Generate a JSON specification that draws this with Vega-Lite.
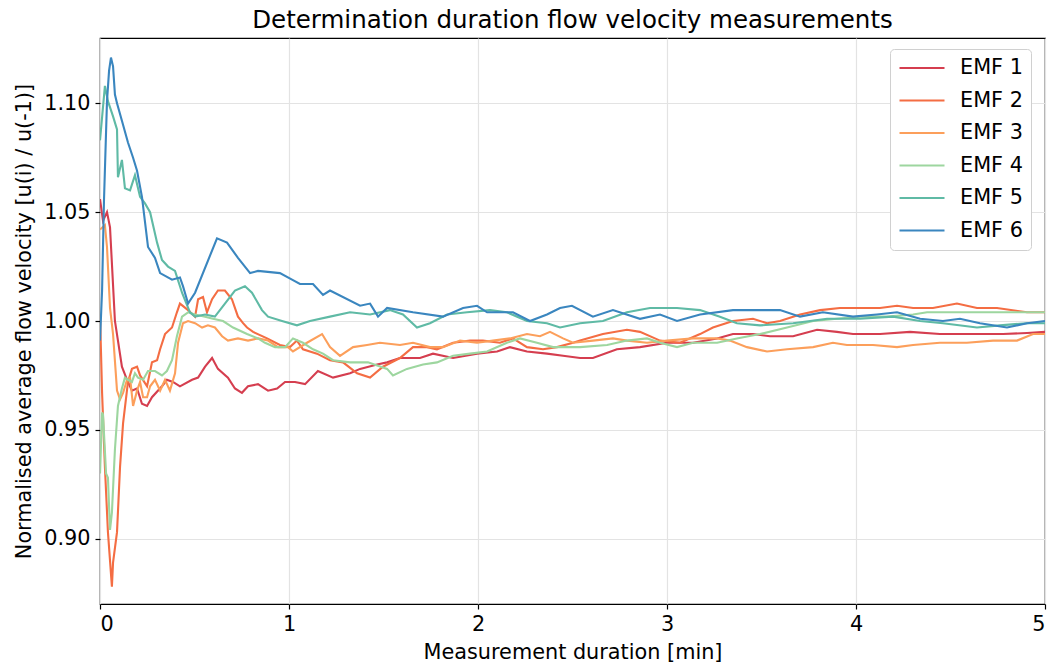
{
  "$schema": "https://vega.github.io/schema/vega-lite/v6.json",
  "width": 945,
  "height": 566,
  "autosize": {"type": "none"},
  "padding": {"left": 100, "top": 38, "right": 10, "bottom": 62},
  "background": "white",
  "title": {"text": "Determination duration flow velocity measurements", "fontSize": 24.5, "font": "DejaVu Sans", "fontWeight": "normal", "color": "black", "offset": 5, "anchor": "middle"},
  "config": {
    "font": "DejaVu Sans",
    "view": {"stroke": "black", "strokeWidth": 1.2},
    "axis": {
      "domain": false,
      "tickColor": "black", "tickSize": 5, "tickWidth": 1.2,
      "labelFont": "DejaVu Sans", "labelFontSize": 20.8, "labelColor": "black", "labelPadding": 5,
      "titleFont": "DejaVu Sans", "titleFontSize": 20.8, "titleFontWeight": "normal", "titleColor": "black",
      "gridColor": "#e3e3e3", "gridWidth": 1.2
    },
    "legend": {
      "orient": "none", "legendX": 790, "legendY": 11,
      "strokeColor": "#d0d0d0", "fillColor": "white", "cornerRadius": 4, "padding": 8,
      "symbolType": "stroke", "symbolSize": 2025, "symbolStrokeWidth": 2.2,
      "labelFont": "DejaVu Sans", "labelFontSize": 20.8, "labelColor": "black", "labelOffset": 14,
      "clipHeight": 22, "rowPadding": 10.5
    }
  },
  "layer": [
    {
      "data": {"values": [
        {"s":"EMF 1","t":0.000,"v":1.056},{"s":"EMF 1","t":0.016,"v":1.046},{"s":"EMF 1","t":0.037,"v":1.050},{"s":"EMF 1","t":0.053,"v":1.043},{"s":"EMF 1","t":0.079,"v":1.000},{"s":"EMF 1","t":0.095,"v":0.991},{"s":"EMF 1","t":0.116,"v":0.979},{"s":"EMF 1","t":0.143,"v":0.973},{"s":"EMF 1","t":0.169,"v":0.968},{"s":"EMF 1","t":0.196,"v":0.969},{"s":"EMF 1","t":0.222,"v":0.962},{"s":"EMF 1","t":0.249,"v":0.961},{"s":"EMF 1","t":0.275,"v":0.965},{"s":"EMF 1","t":0.328,"v":0.970},{"s":"EMF 1","t":0.354,"v":0.973},{"s":"EMF 1","t":0.386,"v":0.972},{"s":"EMF 1","t":0.423,"v":0.970},{"s":"EMF 1","t":0.487,"v":0.973},{"s":"EMF 1","t":0.519,"v":0.974},{"s":"EMF 1","t":0.556,"v":0.979},{"s":"EMF 1","t":0.593,"v":0.983},{"s":"EMF 1","t":0.624,"v":0.978},{"s":"EMF 1","t":0.677,"v":0.974},{"s":"EMF 1","t":0.714,"v":0.969},{"s":"EMF 1","t":0.751,"v":0.967},{"s":"EMF 1","t":0.783,"v":0.970},{"s":"EMF 1","t":0.836,"v":0.971},{"s":"EMF 1","t":0.889,"v":0.968},{"s":"EMF 1","t":0.937,"v":0.969},{"s":"EMF 1","t":0.979,"v":0.972},{"s":"EMF 1","t":1.032,"v":0.972},{"s":"EMF 1","t":1.085,"v":0.971},{"s":"EMF 1","t":1.153,"v":0.977},{"s":"EMF 1","t":1.233,"v":0.974},{"s":"EMF 1","t":1.323,"v":0.976},{"s":"EMF 1","t":1.376,"v":0.978},{"s":"EMF 1","t":1.466,"v":0.980},{"s":"EMF 1","t":1.519,"v":0.981},{"s":"EMF 1","t":1.587,"v":0.983},{"s":"EMF 1","t":1.693,"v":0.983},{"s":"EMF 1","t":1.762,"v":0.985},{"s":"EMF 1","t":1.868,"v":0.983},{"s":"EMF 1","t":1.995,"v":0.985},{"s":"EMF 1","t":2.101,"v":0.986},{"s":"EMF 1","t":2.169,"v":0.988},{"s":"EMF 1","t":2.259,"v":0.986},{"s":"EMF 1","t":2.365,"v":0.985},{"s":"EMF 1","t":2.450,"v":0.984},{"s":"EMF 1","t":2.540,"v":0.983},{"s":"EMF 1","t":2.608,"v":0.983},{"s":"EMF 1","t":2.735,"v":0.987},{"s":"EMF 1","t":2.857,"v":0.988},{"s":"EMF 1","t":3.000,"v":0.990},{"s":"EMF 1","t":3.138,"v":0.990},{"s":"EMF 1","t":3.265,"v":0.992},{"s":"EMF 1","t":3.349,"v":0.994},{"s":"EMF 1","t":3.455,"v":0.994},{"s":"EMF 1","t":3.545,"v":0.993},{"s":"EMF 1","t":3.667,"v":0.993},{"s":"EMF 1","t":3.794,"v":0.996},{"s":"EMF 1","t":3.899,"v":0.995},{"s":"EMF 1","t":3.984,"v":0.994},{"s":"EMF 1","t":4.127,"v":0.994},{"s":"EMF 1","t":4.286,"v":0.995},{"s":"EMF 1","t":4.444,"v":0.994},{"s":"EMF 1","t":4.640,"v":0.994},{"s":"EMF 1","t":4.778,"v":0.994},{"s":"EMF 1","t":4.905,"v":0.9945},{"s":"EMF 1","t":5.000,"v":0.995},

        {"s":"EMF 2","t":0.000,"v":1.003},{"s":"EMF 2","t":0.011,"v":0.967},{"s":"EMF 2","t":0.026,"v":0.933},{"s":"EMF 2","t":0.042,"v":0.903},{"s":"EMF 2","t":0.063,"v":0.878},{"s":"EMF 2","t":0.069,"v":0.889},{"s":"EMF 2","t":0.090,"v":0.903},{"s":"EMF 2","t":0.106,"v":0.933},{"s":"EMF 2","t":0.122,"v":0.953},{"s":"EMF 2","t":0.148,"v":0.972},{"s":"EMF 2","t":0.169,"v":0.978},{"s":"EMF 2","t":0.196,"v":0.979},{"s":"EMF 2","t":0.212,"v":0.975},{"s":"EMF 2","t":0.249,"v":0.970},{"s":"EMF 2","t":0.275,"v":0.981},{"s":"EMF 2","t":0.302,"v":0.982},{"s":"EMF 2","t":0.318,"v":0.987},{"s":"EMF 2","t":0.344,"v":0.994},{"s":"EMF 2","t":0.381,"v":0.997},{"s":"EMF 2","t":0.407,"v":1.004},{"s":"EMF 2","t":0.423,"v":1.008},{"s":"EMF 2","t":0.466,"v":1.005},{"s":"EMF 2","t":0.503,"v":1.002},{"s":"EMF 2","t":0.519,"v":1.010},{"s":"EMF 2","t":0.545,"v":1.011},{"s":"EMF 2","t":0.566,"v":1.004},{"s":"EMF 2","t":0.593,"v":1.010},{"s":"EMF 2","t":0.624,"v":1.014},{"s":"EMF 2","t":0.661,"v":1.014},{"s":"EMF 2","t":0.698,"v":1.010},{"s":"EMF 2","t":0.730,"v":1.002},{"s":"EMF 2","t":0.757,"v":0.999},{"s":"EMF 2","t":0.778,"v":0.997},{"s":"EMF 2","t":0.810,"v":0.995},{"s":"EMF 2","t":0.884,"v":0.992},{"s":"EMF 2","t":0.952,"v":0.989},{"s":"EMF 2","t":1.005,"v":0.988},{"s":"EMF 2","t":1.042,"v":0.991},{"s":"EMF 2","t":1.074,"v":0.987},{"s":"EMF 2","t":1.148,"v":0.985},{"s":"EMF 2","t":1.217,"v":0.982},{"s":"EMF 2","t":1.286,"v":0.981},{"s":"EMF 2","t":1.360,"v":0.976},{"s":"EMF 2","t":1.429,"v":0.974},{"s":"EMF 2","t":1.497,"v":0.979},{"s":"EMF 2","t":1.587,"v":0.983},{"s":"EMF 2","t":1.656,"v":0.988},{"s":"EMF 2","t":1.730,"v":0.988},{"s":"EMF 2","t":1.783,"v":0.987},{"s":"EMF 2","t":1.868,"v":0.990},{"s":"EMF 2","t":1.958,"v":0.991},{"s":"EMF 2","t":2.026,"v":0.991},{"s":"EMF 2","t":2.116,"v":0.990},{"s":"EMF 2","t":2.185,"v":0.992},{"s":"EMF 2","t":2.259,"v":0.988},{"s":"EMF 2","t":2.344,"v":0.987},{"s":"EMF 2","t":2.418,"v":0.988},{"s":"EMF 2","t":2.503,"v":0.990},{"s":"EMF 2","t":2.540,"v":0.991},{"s":"EMF 2","t":2.661,"v":0.994},{"s":"EMF 2","t":2.788,"v":0.996},{"s":"EMF 2","t":2.857,"v":0.995},{"s":"EMF 2","t":2.963,"v":0.991},{"s":"EMF 2","t":3.069,"v":0.990},{"s":"EMF 2","t":3.175,"v":0.994},{"s":"EMF 2","t":3.243,"v":0.997},{"s":"EMF 2","t":3.349,"v":1.000},{"s":"EMF 2","t":3.455,"v":1.001},{"s":"EMF 2","t":3.529,"v":0.999},{"s":"EMF 2","t":3.598,"v":1.000},{"s":"EMF 2","t":3.704,"v":1.003},{"s":"EMF 2","t":3.810,"v":1.005},{"s":"EMF 2","t":3.915,"v":1.006},{"s":"EMF 2","t":4.021,"v":1.006},{"s":"EMF 2","t":4.127,"v":1.006},{"s":"EMF 2","t":4.217,"v":1.007},{"s":"EMF 2","t":4.302,"v":1.006},{"s":"EMF 2","t":4.407,"v":1.006},{"s":"EMF 2","t":4.534,"v":1.008},{"s":"EMF 2","t":4.640,"v":1.006},{"s":"EMF 2","t":4.746,"v":1.006},{"s":"EMF 2","t":4.905,"v":1.004},{"s":"EMF 2","t":5.000,"v":1.004},

        {"s":"EMF 3","t":0.000,"v":1.042},{"s":"EMF 3","t":0.026,"v":1.044},{"s":"EMF 3","t":0.037,"v":1.034},{"s":"EMF 3","t":0.053,"v":1.006},{"s":"EMF 3","t":0.069,"v":0.994},{"s":"EMF 3","t":0.090,"v":0.968},{"s":"EMF 3","t":0.106,"v":0.964},{"s":"EMF 3","t":0.122,"v":0.967},{"s":"EMF 3","t":0.143,"v":0.973},{"s":"EMF 3","t":0.159,"v":0.974},{"s":"EMF 3","t":0.175,"v":0.961},{"s":"EMF 3","t":0.196,"v":0.968},{"s":"EMF 3","t":0.212,"v":0.972},{"s":"EMF 3","t":0.228,"v":0.965},{"s":"EMF 3","t":0.249,"v":0.965},{"s":"EMF 3","t":0.265,"v":0.970},{"s":"EMF 3","t":0.291,"v":0.973},{"s":"EMF 3","t":0.318,"v":0.968},{"s":"EMF 3","t":0.344,"v":0.973},{"s":"EMF 3","t":0.370,"v":0.968},{"s":"EMF 3","t":0.397,"v":0.976},{"s":"EMF 3","t":0.413,"v":0.990},{"s":"EMF 3","t":0.439,"v":0.999},{"s":"EMF 3","t":0.466,"v":1.000},{"s":"EMF 3","t":0.503,"v":0.999},{"s":"EMF 3","t":0.540,"v":0.997},{"s":"EMF 3","t":0.571,"v":0.998},{"s":"EMF 3","t":0.608,"v":0.997},{"s":"EMF 3","t":0.646,"v":0.993},{"s":"EMF 3","t":0.677,"v":0.991},{"s":"EMF 3","t":0.730,"v":0.992},{"s":"EMF 3","t":0.783,"v":0.991},{"s":"EMF 3","t":0.836,"v":0.992},{"s":"EMF 3","t":0.889,"v":0.991},{"s":"EMF 3","t":0.942,"v":0.988},{"s":"EMF 3","t":0.995,"v":0.988},{"s":"EMF 3","t":1.021,"v":0.986},{"s":"EMF 3","t":1.095,"v":0.990},{"s":"EMF 3","t":1.175,"v":0.994},{"s":"EMF 3","t":1.217,"v":0.988},{"s":"EMF 3","t":1.270,"v":0.984},{"s":"EMF 3","t":1.339,"v":0.988},{"s":"EMF 3","t":1.413,"v":0.989},{"s":"EMF 3","t":1.481,"v":0.990},{"s":"EMF 3","t":1.587,"v":0.989},{"s":"EMF 3","t":1.656,"v":0.990},{"s":"EMF 3","t":1.746,"v":0.988},{"s":"EMF 3","t":1.815,"v":0.988},{"s":"EMF 3","t":1.905,"v":0.991},{"s":"EMF 3","t":1.995,"v":0.990},{"s":"EMF 3","t":2.079,"v":0.991},{"s":"EMF 3","t":2.169,"v":0.992},{"s":"EMF 3","t":2.259,"v":0.994},{"s":"EMF 3","t":2.328,"v":0.993},{"s":"EMF 3","t":2.381,"v":0.995},{"s":"EMF 3","t":2.450,"v":0.992},{"s":"EMF 3","t":2.503,"v":0.990},{"s":"EMF 3","t":2.608,"v":0.991},{"s":"EMF 3","t":2.714,"v":0.992},{"s":"EMF 3","t":2.788,"v":0.991},{"s":"EMF 3","t":2.894,"v":0.990},{"s":"EMF 3","t":3.000,"v":0.991},{"s":"EMF 3","t":3.138,"v":0.992},{"s":"EMF 3","t":3.265,"v":0.992},{"s":"EMF 3","t":3.333,"v":0.991},{"s":"EMF 3","t":3.423,"v":0.988},{"s":"EMF 3","t":3.529,"v":0.986},{"s":"EMF 3","t":3.635,"v":0.987},{"s":"EMF 3","t":3.773,"v":0.988},{"s":"EMF 3","t":3.878,"v":0.990},{"s":"EMF 3","t":3.952,"v":0.989},{"s":"EMF 3","t":4.090,"v":0.989},{"s":"EMF 3","t":4.217,"v":0.988},{"s":"EMF 3","t":4.302,"v":0.989},{"s":"EMF 3","t":4.444,"v":0.990},{"s":"EMF 3","t":4.587,"v":0.990},{"s":"EMF 3","t":4.725,"v":0.991},{"s":"EMF 3","t":4.852,"v":0.991},{"s":"EMF 3","t":4.937,"v":0.994},{"s":"EMF 3","t":5.000,"v":0.994},

        {"s":"EMF 4","t":0.000,"v":0.930},{"s":"EMF 4","t":0.011,"v":0.958},{"s":"EMF 4","t":0.016,"v":0.957},{"s":"EMF 4","t":0.032,"v":0.930},{"s":"EMF 4","t":0.042,"v":0.928},{"s":"EMF 4","t":0.053,"v":0.904},{"s":"EMF 4","t":0.063,"v":0.912},{"s":"EMF 4","t":0.079,"v":0.941},{"s":"EMF 4","t":0.095,"v":0.961},{"s":"EMF 4","t":0.116,"v":0.969},{"s":"EMF 4","t":0.132,"v":0.974},{"s":"EMF 4","t":0.148,"v":0.973},{"s":"EMF 4","t":0.169,"v":0.972},{"s":"EMF 4","t":0.185,"v":0.976},{"s":"EMF 4","t":0.201,"v":0.974},{"s":"EMF 4","t":0.228,"v":0.973},{"s":"EMF 4","t":0.254,"v":0.977},{"s":"EMF 4","t":0.291,"v":0.977},{"s":"EMF 4","t":0.328,"v":0.975},{"s":"EMF 4","t":0.354,"v":0.977},{"s":"EMF 4","t":0.381,"v":0.982},{"s":"EMF 4","t":0.407,"v":0.993},{"s":"EMF 4","t":0.434,"v":1.002},{"s":"EMF 4","t":0.466,"v":1.004},{"s":"EMF 4","t":0.503,"v":1.003},{"s":"EMF 4","t":0.556,"v":1.002},{"s":"EMF 4","t":0.598,"v":1.001},{"s":"EMF 4","t":0.651,"v":1.000},{"s":"EMF 4","t":0.704,"v":0.997},{"s":"EMF 4","t":0.778,"v":0.994},{"s":"EMF 4","t":0.836,"v":0.992},{"s":"EMF 4","t":0.873,"v":0.990},{"s":"EMF 4","t":0.926,"v":0.988},{"s":"EMF 4","t":0.979,"v":0.988},{"s":"EMF 4","t":1.021,"v":0.992},{"s":"EMF 4","t":1.074,"v":0.990},{"s":"EMF 4","t":1.127,"v":0.987},{"s":"EMF 4","t":1.180,"v":0.985},{"s":"EMF 4","t":1.233,"v":0.982},{"s":"EMF 4","t":1.323,"v":0.981},{"s":"EMF 4","t":1.418,"v":0.981},{"s":"EMF 4","t":1.519,"v":0.978},{"s":"EMF 4","t":1.550,"v":0.975},{"s":"EMF 4","t":1.624,"v":0.978},{"s":"EMF 4","t":1.709,"v":0.980},{"s":"EMF 4","t":1.783,"v":0.981},{"s":"EMF 4","t":1.868,"v":0.984},{"s":"EMF 4","t":1.958,"v":0.985},{"s":"EMF 4","t":2.048,"v":0.986},{"s":"EMF 4","t":2.153,"v":0.990},{"s":"EMF 4","t":2.222,"v":0.992},{"s":"EMF 4","t":2.312,"v":0.990},{"s":"EMF 4","t":2.397,"v":0.988},{"s":"EMF 4","t":2.471,"v":0.988},{"s":"EMF 4","t":2.540,"v":0.988},{"s":"EMF 4","t":2.683,"v":0.989},{"s":"EMF 4","t":2.788,"v":0.991},{"s":"EMF 4","t":2.894,"v":0.992},{"s":"EMF 4","t":2.963,"v":0.990},{"s":"EMF 4","t":3.053,"v":0.988},{"s":"EMF 4","t":3.138,"v":0.990},{"s":"EMF 4","t":3.265,"v":0.990},{"s":"EMF 4","t":3.370,"v":0.992},{"s":"EMF 4","t":3.492,"v":0.994},{"s":"EMF 4","t":3.635,"v":0.997},{"s":"EMF 4","t":3.773,"v":1.000},{"s":"EMF 4","t":3.899,"v":1.001},{"s":"EMF 4","t":4.021,"v":1.002},{"s":"EMF 4","t":4.164,"v":1.002},{"s":"EMF 4","t":4.302,"v":1.003},{"s":"EMF 4","t":4.376,"v":1.004},{"s":"EMF 4","t":4.550,"v":1.004},{"s":"EMF 4","t":4.725,"v":1.004},{"s":"EMF 4","t":4.905,"v":1.004},{"s":"EMF 4","t":5.000,"v":1.004},

        {"s":"EMF 5","t":0.000,"v":1.083},{"s":"EMF 5","t":0.026,"v":1.108},{"s":"EMF 5","t":0.042,"v":1.101},{"s":"EMF 5","t":0.069,"v":1.094},{"s":"EMF 5","t":0.090,"v":1.088},{"s":"EMF 5","t":0.095,"v":1.066},{"s":"EMF 5","t":0.116,"v":1.074},{"s":"EMF 5","t":0.132,"v":1.061},{"s":"EMF 5","t":0.159,"v":1.060},{"s":"EMF 5","t":0.185,"v":1.067},{"s":"EMF 5","t":0.212,"v":1.057},{"s":"EMF 5","t":0.238,"v":1.054},{"s":"EMF 5","t":0.265,"v":1.050},{"s":"EMF 5","t":0.302,"v":1.036},{"s":"EMF 5","t":0.328,"v":1.028},{"s":"EMF 5","t":0.360,"v":1.025},{"s":"EMF 5","t":0.397,"v":1.023},{"s":"EMF 5","t":0.434,"v":1.013},{"s":"EMF 5","t":0.476,"v":1.004},{"s":"EMF 5","t":0.503,"v":1.002},{"s":"EMF 5","t":0.556,"v":1.003},{"s":"EMF 5","t":0.608,"v":1.002},{"s":"EMF 5","t":0.661,"v":1.008},{"s":"EMF 5","t":0.714,"v":1.014},{"s":"EMF 5","t":0.767,"v":1.016},{"s":"EMF 5","t":0.804,"v":1.013},{"s":"EMF 5","t":0.857,"v":1.005},{"s":"EMF 5","t":0.889,"v":1.002},{"s":"EMF 5","t":0.963,"v":1.000},{"s":"EMF 5","t":1.042,"v":0.998},{"s":"EMF 5","t":1.111,"v":1.000},{"s":"EMF 5","t":1.217,"v":1.002},{"s":"EMF 5","t":1.323,"v":1.004},{"s":"EMF 5","t":1.429,"v":1.003},{"s":"EMF 5","t":1.534,"v":1.005},{"s":"EMF 5","t":1.603,"v":1.003},{"s":"EMF 5","t":1.677,"v":0.997},{"s":"EMF 5","t":1.746,"v":0.999},{"s":"EMF 5","t":1.836,"v":1.003},{"s":"EMF 5","t":1.942,"v":1.004},{"s":"EMF 5","t":2.063,"v":1.005},{"s":"EMF 5","t":2.153,"v":1.004},{"s":"EMF 5","t":2.259,"v":1.000},{"s":"EMF 5","t":2.365,"v":0.999},{"s":"EMF 5","t":2.434,"v":0.997},{"s":"EMF 5","t":2.540,"v":0.999},{"s":"EMF 5","t":2.661,"v":1.000},{"s":"EMF 5","t":2.788,"v":1.004},{"s":"EMF 5","t":2.910,"v":1.006},{"s":"EMF 5","t":3.053,"v":1.006},{"s":"EMF 5","t":3.175,"v":1.005},{"s":"EMF 5","t":3.280,"v":1.002},{"s":"EMF 5","t":3.370,"v":0.999},{"s":"EMF 5","t":3.492,"v":0.998},{"s":"EMF 5","t":3.667,"v":0.999},{"s":"EMF 5","t":3.847,"v":1.001},{"s":"EMF 5","t":4.021,"v":1.001},{"s":"EMF 5","t":4.196,"v":1.002},{"s":"EMF 5","t":4.339,"v":1.000},{"s":"EMF 5","t":4.460,"v":0.999},{"s":"EMF 5","t":4.640,"v":0.997},{"s":"EMF 5","t":4.762,"v":0.998},{"s":"EMF 5","t":4.905,"v":0.999},{"s":"EMF 5","t":5.000,"v":0.999},

        {"s":"EMF 6","t":0.000,"v":0.991},{"s":"EMF 6","t":0.011,"v":1.014},{"s":"EMF 6","t":0.021,"v":1.055},{"s":"EMF 6","t":0.037,"v":1.101},{"s":"EMF 6","t":0.048,"v":1.115},{"s":"EMF 6","t":0.058,"v":1.121},{"s":"EMF 6","t":0.069,"v":1.117},{"s":"EMF 6","t":0.079,"v":1.104},{"s":"EMF 6","t":0.090,"v":1.100},{"s":"EMF 6","t":0.116,"v":1.092},{"s":"EMF 6","t":0.148,"v":1.082},{"s":"EMF 6","t":0.175,"v":1.075},{"s":"EMF 6","t":0.196,"v":1.069},{"s":"EMF 6","t":0.222,"v":1.057},{"s":"EMF 6","t":0.254,"v":1.034},{"s":"EMF 6","t":0.291,"v":1.029},{"s":"EMF 6","t":0.318,"v":1.022},{"s":"EMF 6","t":0.381,"v":1.019},{"s":"EMF 6","t":0.423,"v":1.020},{"s":"EMF 6","t":0.439,"v":1.016},{"s":"EMF 6","t":0.466,"v":1.008},{"s":"EMF 6","t":0.503,"v":1.013},{"s":"EMF 6","t":0.619,"v":1.038},{"s":"EMF 6","t":0.672,"v":1.036},{"s":"EMF 6","t":0.730,"v":1.029},{"s":"EMF 6","t":0.794,"v":1.022},{"s":"EMF 6","t":0.836,"v":1.023},{"s":"EMF 6","t":0.952,"v":1.022},{"s":"EMF 6","t":1.016,"v":1.019},{"s":"EMF 6","t":1.058,"v":1.017},{"s":"EMF 6","t":1.127,"v":1.017},{"s":"EMF 6","t":1.180,"v":1.012},{"s":"EMF 6","t":1.217,"v":1.014},{"s":"EMF 6","t":1.376,"v":1.007},{"s":"EMF 6","t":1.429,"v":1.008},{"s":"EMF 6","t":1.471,"v":1.002},{"s":"EMF 6","t":1.519,"v":1.006},{"s":"EMF 6","t":1.656,"v":1.004},{"s":"EMF 6","t":1.815,"v":1.002},{"s":"EMF 6","t":1.921,"v":1.006},{"s":"EMF 6","t":1.995,"v":1.007},{"s":"EMF 6","t":2.048,"v":1.004},{"s":"EMF 6","t":2.185,"v":1.004},{"s":"EMF 6","t":2.275,"v":1.000},{"s":"EMF 6","t":2.365,"v":1.003},{"s":"EMF 6","t":2.434,"v":1.006},{"s":"EMF 6","t":2.497,"v":1.007},{"s":"EMF 6","t":2.608,"v":1.002},{"s":"EMF 6","t":2.714,"v":1.005},{"s":"EMF 6","t":2.857,"v":1.001},{"s":"EMF 6","t":2.963,"v":1.003},{"s":"EMF 6","t":3.053,"v":1.000},{"s":"EMF 6","t":3.175,"v":1.003},{"s":"EMF 6","t":3.349,"v":1.005},{"s":"EMF 6","t":3.455,"v":1.005},{"s":"EMF 6","t":3.598,"v":1.005},{"s":"EMF 6","t":3.704,"v":1.002},{"s":"EMF 6","t":3.825,"v":1.004},{"s":"EMF 6","t":3.984,"v":1.002},{"s":"EMF 6","t":4.111,"v":1.003},{"s":"EMF 6","t":4.217,"v":1.004},{"s":"EMF 6","t":4.339,"v":1.001},{"s":"EMF 6","t":4.460,"v":1.000},{"s":"EMF 6","t":4.550,"v":1.001},{"s":"EMF 6","t":4.656,"v":0.999},{"s":"EMF 6","t":4.799,"v":0.997},{"s":"EMF 6","t":4.905,"v":0.999},{"s":"EMF 6","t":5.000,"v":1.000}
      ]},
      "mark": {"type": "line", "strokeWidth": 2.1, "clip": true},
      "encoding": {
        "x": {"field": "t", "type": "quantitative", "scale": {"domain": [0, 5], "nice": false, "zero": false},
              "axis": {"title": "Measurement duration [min]", "values": [0, 1, 2, 3, 4, 5], "format": "d", "titlePadding": 9}},
        "y": {"field": "v", "type": "quantitative", "scale": {"domain": [0.87, 1.13], "nice": false, "zero": false},
              "axis": {"title": "Normalised average flow velocity [u(i) / u(-1)]", "values": [0.9, 0.95, 1.0, 1.05, 1.1], "format": ".2f", "titlePadding": 9}},
        "color": {"field": "s", "type": "nominal", "title": null,
                  "scale": {"domain": ["EMF 1", "EMF 2", "EMF 3", "EMF 4", "EMF 5", "EMF 6"],
                            "range": ["#d53e4f", "#f46d43", "#fc9f5b", "#9dd69f", "#5fbaa5", "#3a86bf"]}}
      }
    },
    {
      "mark": {"type": "rule", "strokeDash": [6, 4], "strokeWidth": 2, "color": "black"},
      "encoding": {"y": {"datum": 1, "type": "quantitative"}}
    }
  ]
}
